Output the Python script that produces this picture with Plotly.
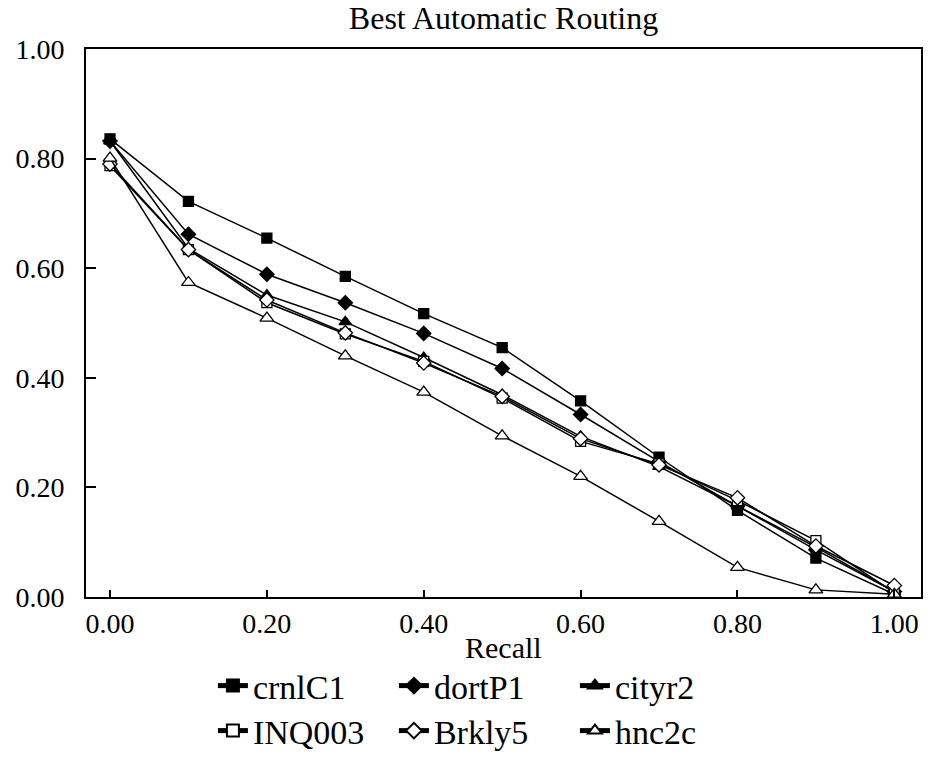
import plotly.graph_objects as go

recall = [0.0, 0.1, 0.2, 0.3, 0.4, 0.5, 0.6, 0.7, 0.8, 0.9, 1.0]
crnlC1 = [0.836, 0.722, 0.655, 0.585, 0.517, 0.455, 0.358, 0.255, 0.158, 0.071, 0.005]
dortP1 = [0.832, 0.662, 0.589, 0.537, 0.481, 0.417, 0.333, 0.247, 0.166, 0.086, 0.010]
cityr2 = [0.832, 0.636, 0.551, 0.502, 0.437, 0.369, 0.293, 0.238, 0.166, 0.091, 0.010]
INQ003 = [0.787, 0.634, 0.537, 0.480, 0.430, 0.363, 0.284, 0.243, 0.176, 0.103, 0.008]
Brkly5 = [0.790, 0.634, 0.542, 0.482, 0.427, 0.366, 0.289, 0.241, 0.181, 0.093, 0.021]
hnc2c = [0.801, 0.574, 0.509, 0.440, 0.374, 0.294, 0.220, 0.138, 0.054, 0.013, 0.005]
tick_vals = [0, 0.2, 0.4, 0.6, 0.8, 1.0]
tick_text = ["0.00", "0.20", "0.40", "0.60", "0.80", "1.00"]

series = [
    ("crnlC1", crnlC1, "square", 10, "black", "legend"),
    ("dortP1", dortP1, "diamond", 11, "black", "legend"),
    ("cityr2", cityr2, "triangle-up", 11, "black", "legend"),
    ("INQ003", INQ003, "square", 10, "white", "legend2"),
    ("Brkly5", Brkly5, "diamond", 11, "white", "legend2"),
    ("hnc2c", hnc2c, "triangle-up", 12, "white", "legend2"),
]

FONT = "Liberation Serif"
fig = go.Figure()
for name, vals, sym, sz, fill, lg in series:
    fig.add_trace(go.Scatter(
        x=recall, y=vals, name=name, mode="lines+markers", legend=lg,
        line=dict(color="black", width=1.5),
        marker=dict(symbol=sym, size=sz, color=fill,
                    line=dict(color="black", width=1.3)),
    ))

leg_common = dict(orientation="h", x=0.152, xanchor="left", xref="paper",
                  yref="container", yanchor="middle", entrywidth=136,
                  entrywidthmode="pixels", font=dict(size=34, family=FONT),
                  itemsizing="constant", bgcolor="rgba(0,0,0,0)")

fig.update_layout(
    width=929, height=757,
    margin=dict(l=86, r=8, t=49, b=160, autoexpand=False),
    paper_bgcolor="white", plot_bgcolor="white",
    font=dict(family=FONT, color="black", size=28),
    title=dict(text="Best Automatic Routing", x=0.5, xref="paper", xanchor="center",
               y=1 - 18 / 757, yref="container", yanchor="middle", automargin=False,
               font=dict(size=32, family=FONT)),
    showlegend=True,
    legend=dict(y=1 - 686 / 757, **leg_common),
    legend2=dict(y=1 - 731 / 757, **leg_common),
    annotations=[dict(text="Recall", x=0.5, xref="paper", xanchor="center",
                      y=(757 - 647 - 160) / 548, yref="paper", yanchor="middle",
                      showarrow=False, font=dict(size=30, family=FONT, color="black"))],
    xaxis=dict(range=[-0.0306, 1.034], tickvals=tick_vals, ticktext=tick_text,
               ticks="inside", ticklen=7, tickcolor="black", tickwidth=1.5,
               showline=True, linecolor="black", linewidth=2, mirror=True,
               showgrid=False, zeroline=False, ticklabelstandoff=0, automargin=False,
               tickfont=dict(size=28, family=FONT)),
    yaxis=dict(range=[0, 1.0], tickvals=tick_vals, ticktext=tick_text,
               ticks="inside", ticklen=10, tickcolor="black", tickwidth=1.5,
               showline=True, linecolor="black", linewidth=2, mirror=True,
               showgrid=False, zeroline=False, ticklabelstandoff=14, automargin=False,
               tickfont=dict(size=28, family=FONT)),
)

fig.write_html("out.html")
